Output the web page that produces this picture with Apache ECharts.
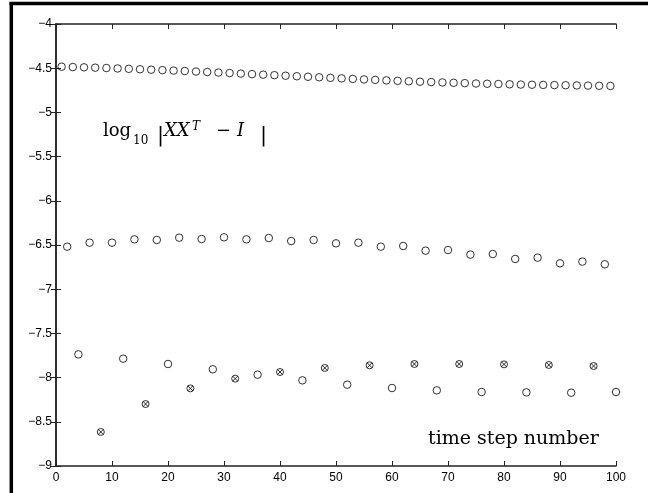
<!DOCTYPE html>
<html>
<head>
<meta charset="utf-8">
<script src="https://cdn.jsdelivr.net/npm/echarts@6/dist/echarts.min.js"></script>
<style>
  html, body { margin: 0; padding: 0; background: #fff; }
  #chart { width: 648px; height: 493px; }
</style>
</head>
<body>
<div id="chart"></div>
<script>
    // x positions of each series
    var stepsTop = [1, 3, 5, 7, 9, 11, 13, 15, 17, 19, 21, 23, 25, 27, 29, 31, 33, 35, 37, 39,
        41, 43, 45, 47, 49, 51, 53, 55, 57, 59, 61, 63, 65, 67, 69, 71, 73, 75, 77, 79,
        81, 83, 85, 87, 89, 91, 93, 95, 97, 99];
    var valuesTop = [-4.483, -4.487, -4.490, -4.494, -4.498, -4.503, -4.507, -4.512, -4.517, -4.522,
        -4.527, -4.532, -4.538, -4.543, -4.549, -4.555, -4.561, -4.567, -4.573, -4.579,
        -4.585, -4.591, -4.597, -4.603, -4.609, -4.615, -4.621, -4.627, -4.632, -4.638,
        -4.643, -4.648, -4.653, -4.657, -4.661, -4.665, -4.669, -4.673, -4.676, -4.679,
        -4.682, -4.685, -4.687, -4.689, -4.691, -4.693, -4.695, -4.697, -4.699, -4.701];

    var stepsMid = [2, 6, 10, 14, 18, 22, 26, 30, 34, 38, 42, 46, 50, 54, 58, 62, 66, 70, 74, 78,
        82, 86, 90, 94, 98];
    var valuesMid = [-6.519, -6.474, -6.474, -6.436, -6.443, -6.417, -6.432, -6.413, -6.436, -6.421,
        -6.455, -6.443, -6.481, -6.474, -6.519, -6.511, -6.564, -6.557, -6.609, -6.602,
        -6.658, -6.643, -6.707, -6.688, -6.718];

    var stepsLowO = [4, 12, 20, 28, 36, 44, 52, 60, 68, 76, 84, 92, 100];
    var valuesLowO = [-7.737, -7.786, -7.846, -7.906, -7.967, -8.031, -8.080, -8.118, -8.144, -8.163,
        -8.167, -8.171, -8.163];

    var stepsLowX = [8, 16, 24, 32, 40, 48, 56, 64, 72, 80, 88, 96];
    var valuesLowX = [-8.615, -8.299, -8.122, -8.012, -7.937, -7.891, -7.861, -7.846, -7.846, -7.850,
        -7.857, -7.869];

    function pairs(xs, ys) {
        var out = [];
        for (var i = 0; i < xs.length; i++) {
            out.push([xs[i], ys[i]]);
        }
        return out;
    }

    // circle with an x inside
    var crossCircle = 'path://M0,-10 A10,10 0 1,1 0,10 A10,10 0 1,1 0,-10 Z ' +
        'M-7.07,-7.07 L7.07,7.07 M-7.07,7.07 L7.07,-7.07';

    var axisLine = { show: true, lineStyle: { color: '#222', width: 1.5 } };
    var tick = { show: true, inside: true, length: 5, lineStyle: { color: '#222', width: 1 } };
    var labelFont = { color: '#000', fontFamily: 'Liberation Sans', fontSize: 12 };

    function minus(v) {
        return String(v).replace('-', '\u2212');
    }

    var ring = { color: 'transparent', borderColor: '#000', borderWidth: 1 };

    var eChartObj = echarts.init(document.getElementById('chart'));
    var options = {
        animation: false,
        backgroundColor: '#fff',
        grid: { left: 56, right: 32, top: 24, bottom: 27 },
        xAxis: [{
            type: 'value', min: 0, max: 100, interval: 10, position: 'bottom',
            axisLine: axisLine, axisTick: tick, splitLine: { show: false },
            axisLabel: Object.assign({ margin: 6 }, labelFont)
        }, {
            type: 'value', min: 0, max: 100, interval: 10, position: 'top',
            axisLine: axisLine, axisTick: tick, splitLine: { show: false },
            axisLabel: { show: false }
        }],
        yAxis: [{
            type: 'value', min: -9, max: -4, interval: 0.5, position: 'left',
            axisLine: axisLine, axisTick: tick, splitLine: { show: false },
            axisLabel: Object.assign({ margin: 4, formatter: minus }, labelFont)
        }, {
            type: 'value', min: -9, max: -4, interval: 0.5, position: 'right',
            axisLine: axisLine, axisTick: tick, splitLine: { show: false },
            axisLabel: { show: false }
        }],
        series: [{
            type: 'scatter', symbol: 'circle', symbolSize: 7.5,
            itemStyle: ring, data: pairs(stepsTop, valuesTop)
        }, {
            type: 'scatter', symbol: 'circle', symbolSize: 7.5,
            itemStyle: ring, data: pairs(stepsMid, valuesMid)
        }, {
            type: 'scatter', symbol: 'circle', symbolSize: 7.5,
            itemStyle: ring, data: pairs(stepsLowO, valuesLowO)
        }, {
            type: 'scatter', symbol: crossCircle, symbolSize: 7,
            itemStyle: ring, data: pairs(stepsLowX, valuesLowX)
        }],
        graphic: [
            // outer frame (top and left only)
            { type: 'line', shape: { x1: 9.5, y1: 3.5, x2: 648, y2: 3.5 }, style: { stroke: '#000', lineWidth: 3.5 } },
            { type: 'line', shape: { x1: 11.3, y1: 2, x2: 11.3, y2: 493 }, style: { stroke: '#000', lineWidth: 3.5 } },
            // formula label
            { type: 'text', x: 103, y: 131, style: { text: 'log', font: '18px "DejaVu Serif"', fill: '#000', verticalAlign: 'middle' } },
            { type: 'text', x: 133, y: 141, style: { text: '10', font: '12px "DejaVu Serif"', fill: '#000', verticalAlign: 'middle' } },
            { type: 'text', x: 157, y: 136, style: { text: '|', font: '21px "DejaVu Serif"', fill: '#000', verticalAlign: 'middle' } },
            { type: 'text', x: 164, y: 131, style: { text: 'XX', font: 'italic 18px "DejaVu Serif"', fill: '#000', verticalAlign: 'middle' } },
            { type: 'text', x: 192, y: 127, style: { text: 'T', font: 'italic 12px "DejaVu Serif"', fill: '#000', verticalAlign: 'middle' } },
            { type: 'text', x: 216, y: 131, style: { text: '\u2212', font: '18px "DejaVu Serif"', fill: '#000', verticalAlign: 'middle' } },
            { type: 'text', x: 237, y: 131, style: { text: 'I', font: 'italic 18px "DejaVu Serif"', fill: '#000', verticalAlign: 'middle' } },
            { type: 'text', x: 260, y: 136, style: { text: '|', font: '21px "DejaVu Serif"', fill: '#000', verticalAlign: 'middle' } },
            // axis caption inside the plot
            { type: 'text', x: 428, y: 439, style: { text: 'time step number', font: '19px "DejaVu Serif"', fill: '#000', verticalAlign: 'middle' } }
        ]
    };
    eChartObj.setOption(options);
</script>
</body>
</html>
